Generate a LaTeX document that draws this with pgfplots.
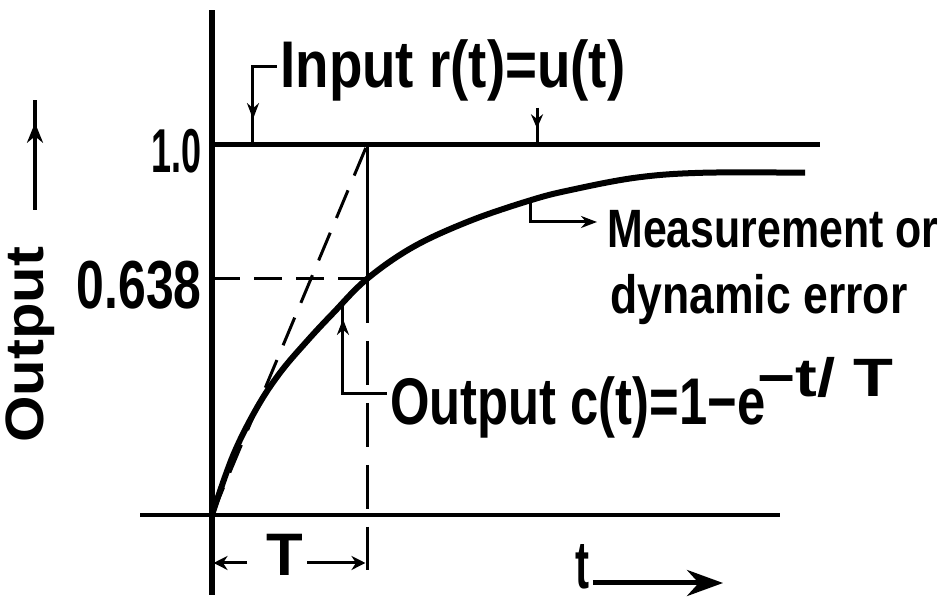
\documentclass[border=0pt]{standalone}
\usepackage{fontspec}
\setmainfont{Liberation Sans}
\usepackage{graphicx}
\usepackage{pgfplots}
\pgfplotsset{compat=1.18}
\usetikzlibrary{arrows.meta}

% bold label of given size, squeezed or stretched to a given width
\newcommand{\lab}[3]{\resizebox{#2}{\height}{\fontsize{#1}{#1}\selectfont\bfseries #3}}

\begin{document}
\begin{tikzpicture}
\begin{axis}[
  scale only axis, width=470.5pt, height=301pt,
  xmin=-1.36774, xmax=4.70323, ymin=-0.235135, ymax=1.391892,
  axis x line=none, axis y line=center, axis line style={draw=none},
  xtick=\empty,
  ytick={0.638,1},
  yticklabels={\lab{34pt}{62.5pt}{0.638},\lab{31pt}{25pt}{1.0}},
  major tick length=0pt,
  yticklabel style={anchor=east, inner sep=0pt, xshift=-5pt, yshift=-3pt},
  clip=false,
]
% axes
\addplot[black, line width=2.75pt] coordinates {(0,-0.2162) (0,1.3649)};
\addplot[black, line width=1.75pt] coordinates {(-0.4645,0) (3.6645,0)};

% input step r(t)=u(t)
\addplot[black, line width=2.5pt] coordinates {(0,1) (3.9226,1)};

% output c(t)
\addplot[black, line width=3pt, smooth, tension=0.6] coordinates {
  (0,0) (0.135,0.160) (0.29,0.290) (0.44,0.385) (0.613,0.470)
  (0.78,0.545) (1.0,0.638) (1.3,0.725) (1.665,0.795) (2.05,0.850)
  (2.31,0.878) (2.74,0.912) (3.17,0.925) (3.826,0.925)};

% tangent at the origin and the time-constant construction
\addplot[black, line width=1.5pt, dash pattern=on 15pt off 8pt] coordinates {(0,0) (1,1)};
\addplot[black, line width=1.5pt, dash pattern=on 14pt off 7pt] coordinates {(0,0.638) (1,0.638)};
\addplot[black, line width=1.5pt] coordinates {(1,1) (1,0.638)};
\addplot[black, line width=1.5pt, dash pattern=on 22pt off 9pt] coordinates {(1,0.638) (1,-0.135)};
\addplot[black, line width=1.5pt] coordinates {(1,-0.032) (1,-0.149)};

% leaders
\addplot[black, line width=1.5pt] coordinates {(0.419,1.2108) (0.2645,1.2108) (0.2645,1.0)};
\addplot[black, line width=1.5pt, -{Stealth[length=8pt,width=6pt]}] coordinates {(0.2645,1.16) (0.2645,1.07)};
\addplot[black, line width=1.5pt] coordinates {(2.0968,1.10) (2.0968,1.0)};
\addplot[black, line width=1.5pt, -{Stealth[length=7pt,width=6pt]}] coordinates {(2.0968,1.10) (2.0968,1.045)};
\addplot[black, line width=1.5pt, -{Stealth[length=8pt,width=6pt]}] coordinates {(2.0516,0.850) (2.0516,0.7919) (2.4839,0.7919)};
\addplot[black, line width=1.5pt] coordinates {(0.845,0.57) (0.845,0.3297) (1.129,0.3297)};
\addplot[black, line width=1.5pt, -{Stealth[length=8pt,width=6pt]}] coordinates {(0.845,0.42) (0.845,0.53)};

% y label arrow
\addplot[black, line width=1.75pt] coordinates {(-1.1419,0.8243) (-1.1419,1.1216)};
\addplot[black, line width=1.75pt, -{Stealth[length=10pt,width=8pt]}] coordinates {(-1.1419,0.90) (-1.1419,1.06)};

% time constant dimension
\addplot[black, line width=1.5pt, -{Stealth[length=7pt,width=7pt]}] coordinates {(0.226,-0.1297) (0.01,-0.1297)};
\addplot[black, line width=1.5pt, -{Stealth[length=7pt,width=7pt]}] coordinates {(0.613,-0.1297) (0.99,-0.1297)};

% time arrow
\addplot[black, line width=2.5pt, -{Stealth[length=18pt,width=13pt]}] coordinates {(2.458,-0.1838) (3.297,-0.1838)};

% texts
\node[anchor=base west, inner sep=0pt] at (axis cs:0.4387,1.1541) {\lab{33pt}{172.5pt}{Input r(t)=u(t)}};
\node[anchor=base west, inner sep=0pt] at (axis cs:2.5484,0.7216) {\lab{27pt}{165.5pt}{Measurement or}};
\node[anchor=base west, inner sep=0pt] at (axis cs:2.5677,0.5459) {\lab{27pt}{148.5pt}{dynamic error}};
\node[anchor=base west, inner sep=0pt] at (axis cs:1.1484,0.2459) {\lab{33pt}{187.5pt}{Output c(t)=1−e}};
\node[anchor=base west, inner sep=0pt] at (axis cs:3.5161,0.3189) {\lab{27pt}{68pt}{−t/ T}};
\node[rotate=90, anchor=center, inner sep=0pt] at (axis cs:-1.1742,0.4595) {\lab{27pt}{98pt}{Output}};
\node[anchor=center, inner sep=0pt] at (axis cs:0.4710,-0.1081) {\fontsize{30pt}{30pt}\selectfont\bfseries T};
\node[anchor=base, inner sep=0pt] at (axis cs:2.3935,-0.2000) {\resizebox{7pt}{22pt}{\bfseries t}};
\end{axis}
\pgfresetboundingbox
\useasboundingbox (current axis.south west) rectangle (current axis.north east);
\end{tikzpicture}
\end{document}
